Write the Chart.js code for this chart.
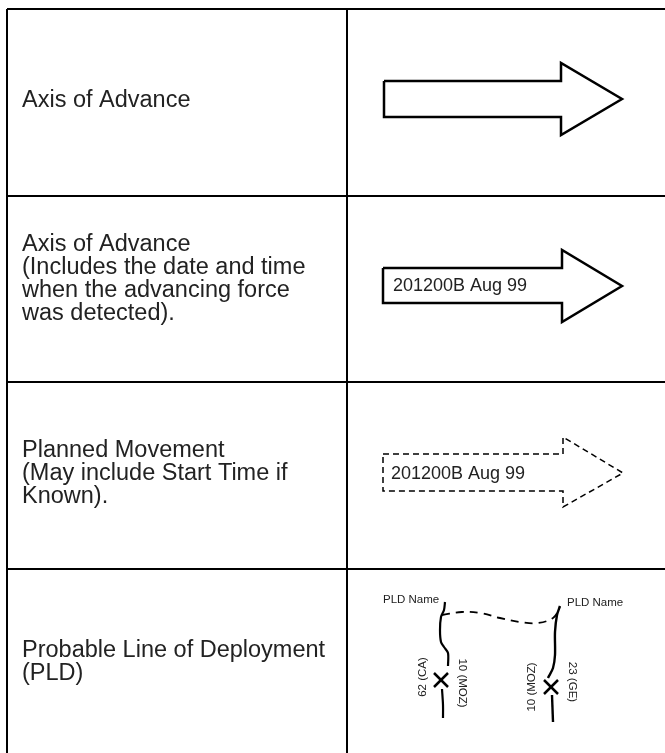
<!DOCTYPE html>
<html>
<head>
<meta charset="utf-8">
<script src="https://cdn.jsdelivr.net/npm/chart.js@4.4.1/dist/chart.umd.min.js"></script>
<style>
  html, body { margin: 0; padding: 0; background: #fff; }
  #chart { display: block; }
</style>
</head>
<body>
<canvas id="chart" width="665" height="753"></canvas>
<script>
// table rules (page pixel units, y grows downward)
var tableRules = [
    [[7, 9], [666, 9]],
    [[7, 196], [666, 196]],
    [[7, 382], [666, 382]],
    [[7, 569], [666, 569]],
    [[7, 9], [7, 760]],
    [[347, 9], [347, 760]]
];

// arrow outlines
var arrowAdvance = [[384, 81], [561, 81], [561, 63], [622, 99], [561, 135], [561, 117], [384, 117], [384, 81]];
var arrowDetected = [[383, 268], [562, 268], [562, 250], [622, 286], [562, 322], [562, 303], [383, 303], [383, 268]];
var arrowPlanned = [[383, 454], [563, 454], [563, 437], [623, 473], [563, 507], [563, 491], [383, 491], [383, 454]];

// probable line of deployment
var pldLeftTop = [[445, 602], [444, 610], [441, 617], [440, 630], [441, 642], [444, 647], [448, 653], [448, 666]];
var pldLeftBottom = [[442, 689], [443, 705], [443, 718]];
var pldRightTop = [[560, 606], [557, 615], [555, 632], [555, 655], [553, 668], [548, 678]];
var pldRightBottom = [[552, 695], [553, 722]];
var pldLink = [[442, 615], [462, 612], [480, 613], [500, 618], [520, 622], [538, 623], [553, 618], [559, 610]];
var crossCentres = [[441, 680], [551, 687]];

// texts
var rowLabels = [
    ['Axis of Advance'],
    ['Axis of Advance', '(Includes the date and time', 'when the advancing force', 'was detected).'],
    ['Planned Movement', '(May include Start Time if', 'Known).'],
    ['Probable Line of Deployment', '(PLD)']
];
var rowCentres = [101, 279, 474, 662];
var dtgLabels = ['201200B Aug 99', '201200B Aug 99'];
var dtgPositions = [[393, 286], [391, 474]];
var pldNames = ['PLD Name', 'PLD Name'];
var pldNamePositions = [[383, 600], [567, 603]];
var unitLabels = ['62 (CA)', '10 (MOZ)', '10 (MOZ)', '23 (GE)'];
var unitPositions = [[423, 677], [462, 683], [532, 687], [572, 682]];
var unitTurns = [-1, 1, -1, 1];

function pts(list) {
    return list.map(function (p) { return { x: p[0], y: p[1] }; });
}

function path(list, width, dash, tension) {
    return {
        data: pts(list),
        showLine: true,
        borderColor: '#000000',
        borderWidth: width,
        borderDash: dash || [],
        tension: tension || 0,
        pointRadius: 0,
        fill: false,
        borderJoinStyle: 'miter'
    };
}

var datasets = [];
tableRules.forEach(function (r) { datasets.push(path(r, 2)); });
datasets.push(path(arrowAdvance, 2.5));
datasets.push(path(arrowDetected, 2.5));
datasets.push(path(arrowPlanned, 1.5, [6, 4]));
datasets.push(path(pldLeftTop, 2.2, [], 0.3));
datasets.push(path(pldLeftBottom, 2.2, [], 0.3));
datasets.push(path(pldRightTop, 2.4, [], 0.3));
datasets.push(path(pldRightBottom, 2.4));
datasets.push(path(pldLink, 1.8, [8, 6], 0.4));
crossCentres.forEach(function (c) {
    datasets.push(path([[c[0] - 7, c[1] - 7], [c[0] + 7, c[1] + 7]], 2.5));
    datasets.push(path([[c[0] - 7, c[1] + 7], [c[0] + 7, c[1] - 7]], 2.5));
});

var textFont = '"Liberation Sans", Arial, sans-serif';

var textPlugin = {
    id: 'tableText',
    afterDatasetsDraw: function (chart) {
        var c = chart.ctx;
        var sx = chart.scales.x, sy = chart.scales.y;
        c.save();
        c.fillStyle = '#222222';
        c.textBaseline = 'middle';
        c.textAlign = 'left';

        c.font = '23.5px ' + textFont;
        rowLabels.forEach(function (lines, i) {
            var lh = 23;
            var top = rowCentres[i] - (lines.length - 1) * lh / 2;
            lines.forEach(function (t, j) {
                c.fillText(t, sx.getPixelForValue(22), sy.getPixelForValue(top + j * lh));
            });
        });

        c.font = '18px ' + textFont;
        dtgLabels.forEach(function (t, i) {
            c.fillText(t, sx.getPixelForValue(dtgPositions[i][0]), sy.getPixelForValue(dtgPositions[i][1]));
        });

        c.font = '11.5px ' + textFont;
        pldNames.forEach(function (t, i) {
            c.fillText(t, sx.getPixelForValue(pldNamePositions[i][0]), sy.getPixelForValue(pldNamePositions[i][1]));
        });

        c.textAlign = 'center';
        unitLabels.forEach(function (t, i) {
            c.save();
            c.translate(sx.getPixelForValue(unitPositions[i][0]), sy.getPixelForValue(unitPositions[i][1]));
            c.rotate(unitTurns[i] * Math.PI / 2);
            c.fillText(t, 0, 0);
            c.restore();
        });
        c.restore();
    }
};

var ctx = document.getElementById('chart');
var myChart = new Chart(ctx, {
    type: 'scatter',
    data: { datasets: datasets },
    options: {
        responsive: false,
        animation: false,
        events: [],
        layout: { padding: 0 },
        plugins: {
            legend: { display: false },
            tooltip: { enabled: false }
        },
        scales: {
            x: { type: 'linear', min: 0, max: 665, display: false },
            y: { type: 'linear', min: 0, max: 753, reverse: true, display: false }
        }
    },
    plugins: [textPlugin]
});
</script>
</body>
</html>
